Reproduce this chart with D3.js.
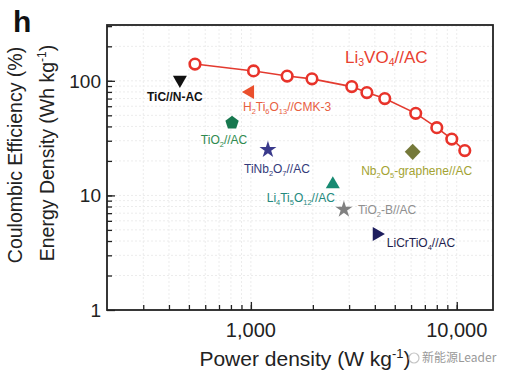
<!DOCTYPE html>
<html>
<head>
<meta charset="utf-8">
<script src="https://cdn.jsdelivr.net/npm/d3@7"></script>
<style>
  body { margin: 0; background: #fff; }
  svg { font-family: "Liberation Sans", Arial, sans-serif; }
</style>
</head>
<body>
<div id="content"></div>
<script>
// Li3VO4//AC series
const lvoPower = [535, 1030, 1500, 1980, 3090, 3660, 4470, 6320, 8000, 9460, 10940];
const lvoEnergy = [140, 122, 110, 104, 89, 79, 70, 52, 39, 31, 24.6];

// comparison devices ("_" = subscript char)
const refNames = ["TiC//N-AC", "H_2Ti_6O_1_3//CMK-3", "TiO_2//AC", "TiNb_2O_7//AC",
  "Li_4Ti_5O_1_2//AC", "TiO_2-B//AC", "LiCrTiO_4//AC", "Nb_2O_5-graphene//AC"];
const refPower = [452, 990, 810, 1210, 2500, 2830, 4090, 6110];
const refEnergy = [102, 80, 43, 25, 12.5, 7.55, 4.6, 24];

const xTickVals = [1000, 10000];
const yTickVals = [1, 10, 100];

const w = 512, h = 381;
const m = {left: 107, right: 493, top: 25, bottom: 310};

// styling per device: shape, rotation, marker colour, label colour, label offset
const refStyle = [
  {shape: d3.symbolTriangle, rot: 180, fill: "#111", txt: "#111", dx: -5, dy: 21, anchor: "middle", weight: "bold"},
  {shape: d3.symbolTriangle, rot: -90, fill: "#ea4f2c", txt: "#e8603f", dx: -7, dy: 19, anchor: "start"},
  {shape: "pentagon", rot: 0, fill: "#17784f", txt: "#2f8a4f", dx: -8, dy: 21, anchor: "middle"},
  {shape: d3.symbolStar, rot: 0, fill: "#3a3a8c", txt: "#333a7a", dx: 9, dy: 23, anchor: "middle"},
  {shape: d3.symbolTriangle, rot: 0, fill: "#178a72", txt: "#238a7e", dx: -32, dy: 18, anchor: "middle"},
  {shape: d3.symbolStar, rot: 0, fill: "#808080", txt: "#8f8f8f", dx: 14, dy: 5, anchor: "start"},
  {shape: d3.symbolTriangle, rot: 90, fill: "#1e1e5e", txt: "#1e1e4e", dx: 10, dy: 13, anchor: "start"},
  {shape: d3.symbolDiamond, rot: 0, fill: "#75793a", txt: "#a3a332", dx: 4, dy: 23, anchor: "middle"}
];

const svg = d3.select("#content").append("svg").attr("width", w).attr("height", h);

const xScale = d3.scaleLog().domain([200, 15000]).range([m.left, m.right]);
const yScale = d3.scaleLog().domain([1, 307]).range([m.bottom, m.top]);

// faint grid
const xMinor = xScale.ticks().filter(v => v > 200 && v < 15000);
const yMinor = yScale.ticks().filter(v => v > 1 && v < 307);
svg.append("g").selectAll("line").data(xMinor).enter().append("line")
  .attr("x1", d => xScale(d)).attr("x2", d => xScale(d))
  .attr("y1", m.top).attr("y2", m.bottom)
  .attr("stroke", "#ececec").attr("stroke-width", 1).attr("stroke-dasharray", "2,2");
svg.append("g").selectAll("line").data(yMinor).enter().append("line")
  .attr("y1", d => yScale(d)).attr("y2", d => yScale(d))
  .attr("x1", m.left).attr("x2", m.right)
  .attr("stroke", "#ececec").attr("stroke-width", 1).attr("stroke-dasharray", "2,2");

// axes (ticks pointing inward)
const xAxisMinor = d3.axisTop(xScale).tickValues(xMinor).tickSize(5).tickFormat("");
const yAxisMinor = d3.axisRight(yScale).tickValues(yMinor).tickSize(5).tickFormat("");
svg.append("g").attr("transform", `translate(0,${m.bottom})`).call(xAxisMinor);
svg.append("g").attr("transform", `translate(${m.left},0)`).call(yAxisMinor);
svg.append("g").attr("transform", `translate(0,${m.bottom})`)
  .call(d3.axisTop(xScale).tickValues(xTickVals).tickSize(8).tickFormat(""));
svg.append("g").attr("transform", `translate(${m.left},0)`)
  .call(d3.axisRight(yScale).tickValues(yTickVals).tickSize(8).tickFormat(""));
svg.selectAll(".domain").remove();
svg.selectAll(".tick line").attr("stroke", "#222").attr("stroke-width", 1.3);

// frame
svg.append("rect").attr("x", m.left).attr("y", m.top)
  .attr("width", m.right - m.left).attr("height", m.bottom - m.top)
  .attr("fill", "none").attr("stroke", "#222").attr("stroke-width", 1.8);

// tick labels
svg.selectAll(".xlab").data(xTickVals).enter().append("text")
  .attr("x", d => xScale(d)).attr("y", m.bottom + 27)
  .attr("text-anchor", "middle").attr("font-size", 20).attr("fill", "#222")
  .text(d => d3.format(",")(d));
svg.selectAll(".ylab").data(yTickVals).enter().append("text")
  .attr("x", m.left - 6).attr("y", d => yScale(d) + 7)
  .attr("text-anchor", "end").attr("font-size", 19).attr("fill", "#222")
  .text(d => d);

// axis titles
svg.append("text").attr("transform", "translate(22,155) rotate(-90)")
  .attr("text-anchor", "middle").attr("font-size", 19.5).attr("fill", "#222")
  .text("Coulombic Efficiency (%)");
const yt2 = svg.append("text").attr("transform", "translate(54,153) rotate(-90)")
  .attr("text-anchor", "middle").attr("font-size", 19.5).attr("fill", "#222");
yt2.append("tspan").text("Energy Density (Wh kg");
yt2.append("tspan").attr("font-size", 12).attr("dy", -8).text("-1");
yt2.append("tspan").attr("dy", 8).text(")");

const xt = svg.append("text").attr("x", 305).attr("y", 366)
  .attr("text-anchor", "middle").attr("font-size", 21).attr("fill", "#222");
xt.append("tspan").text("Power density (W kg");
xt.append("tspan").attr("font-size", 13).attr("dy", -8).text("-1");
xt.append("tspan").attr("dy", 8).text(")");

// panel letter
svg.append("text").attr("x", 13).attr("y", 32).attr("font-size", 30)
  .attr("font-weight", "bold").attr("fill", "#111").text("h");

// subscript label helper
function addLabel(sel, str, size) {
  const parts = str.split("");
  let sub = false;
  for (let i = 0; i < parts.length; i++) {
    if (parts[i] === "_") {
      const t = parts[i + 1];
      sel.append("tspan").attr("font-size", size * 0.62).attr("dy", sub ? 0 : 3).text(t);
      sub = true;
      i++;
    } else {
      const run = [];
      while (i < parts.length && parts[i] !== "_") { run.push(parts[i]); i++; }
      i--;
      sel.append("tspan").attr("dy", sub ? -3 : 0).text(run.join(""));
      sub = false;
    }
  }
}

// Li3VO4 line + circles
const line = d3.line().x((d, i) => xScale(lvoPower[i])).y(d => yScale(d));
svg.append("path").datum(lvoEnergy).attr("d", line)
  .attr("fill", "none").attr("stroke", "#e33a2f").attr("stroke-width", 1.6);
svg.selectAll(".lvo").data(lvoEnergy).enter().append("circle")
  .attr("cx", (d, i) => xScale(lvoPower[i])).attr("cy", d => yScale(d))
  .attr("r", 5.3).attr("fill", "#fff").attr("stroke", "#e8332a").attr("stroke-width", 2.6);
const lvoLab = svg.append("text").attr("x", 345).attr("y", 63)
  .attr("font-size", 17).attr("fill", "#e8402f");
addLabel(lvoLab, "Li_3VO_4//AC", 17);

// pentagon path
function pentagon(r) {
  const pts = d3.range(5).map(k => {
    const a = -Math.PI / 2 + k * 2 * Math.PI / 5;
    return [r * Math.cos(a), r * Math.sin(a)];
  });
  return "M" + pts.join("L") + "Z";
}

// reference markers
const refs = svg.selectAll(".ref").data(refEnergy).enter().append("g")
  .attr("transform", (d, i) => `translate(${xScale(refPower[i])},${yScale(d)})`);
refs.append("path")
  .attr("d", (d, i) => {
    const s = refStyle[i];
    if (s.shape === "pentagon") return pentagon(7);
    const size = s.shape === d3.symbolStar ? 90 : (s.shape === d3.symbolDiamond ? 120 : 85);
    return d3.symbol().type(s.shape).size(size)();
  })
  .attr("transform", (d, i) => `rotate(${refStyle[i].rot})` + (refStyle[i].shape === d3.symbolDiamond ? " scale(1.35,0.8)" : ""))
  .attr("fill", (d, i) => refStyle[i].fill);
refs.each(function (d, i) {
  const s = refStyle[i];
  const t = d3.select(this).append("text").attr("x", s.dx).attr("y", s.dy)
    .attr("text-anchor", s.anchor).attr("font-size", 12).attr("fill", s.txt)
    .attr("font-weight", s.weight || "normal");
  addLabel(t, refNames[i], 12);
});

// watermark
const wm = svg.append("g").attr("transform", "translate(414,358)");
wm.append("circle").attr("r", 5).attr("fill", "none").attr("stroke", "#c4c4c4").attr("stroke-width", 1.2);
wm.append("text").attr("x", 8).attr("y", 4).attr("font-size", 12)
  .attr("fill", "#999").attr("font-family", "Noto Sans CJK SC, sans-serif").text("新能源Leader");
</script>
</body>
</html>
